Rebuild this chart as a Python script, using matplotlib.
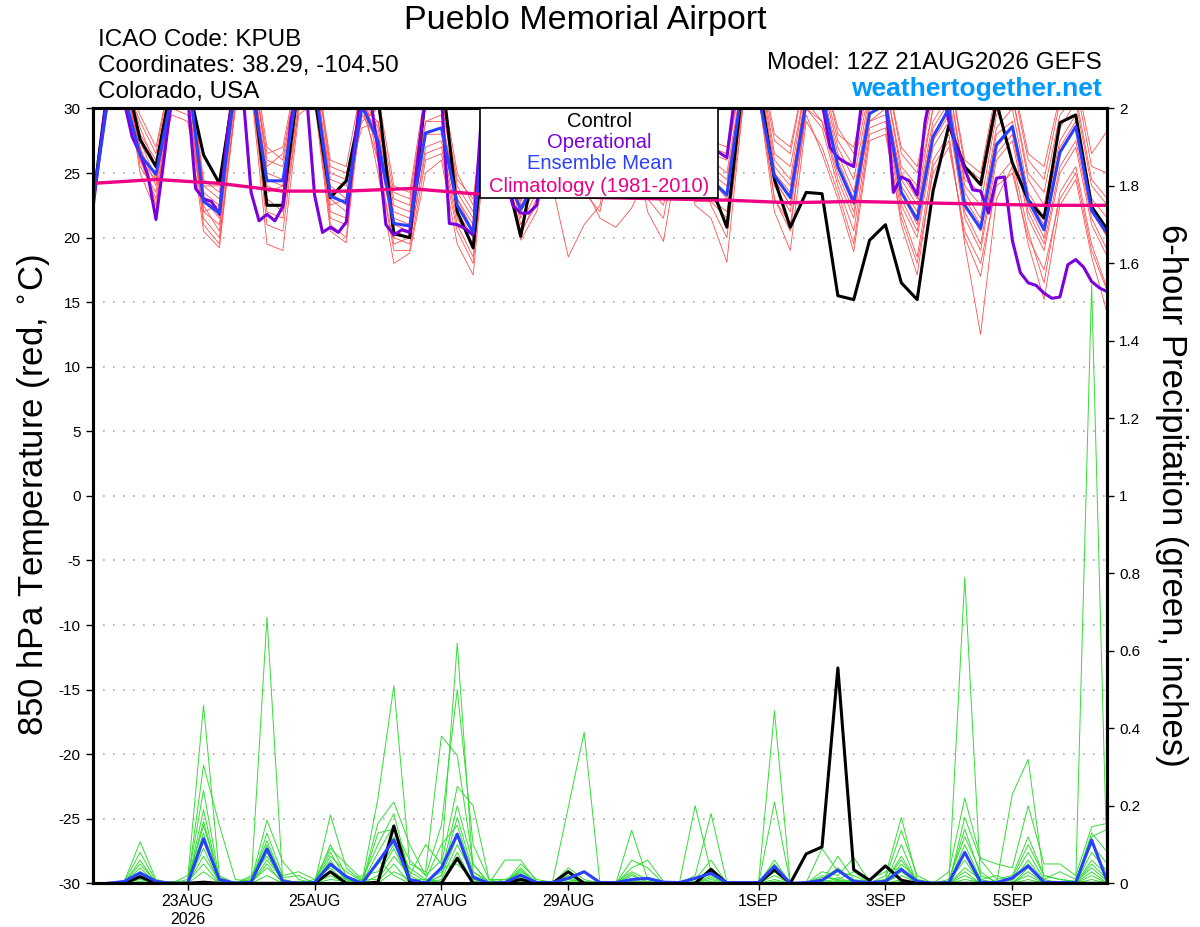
import numpy as np
import pandas as pd
import matplotlib
matplotlib.use("Agg")
import matplotlib.pyplot as plt
from matplotlib.patches import Rectangle

plt.rcParams['font.family'] = ['Liberation Sans', 'DejaVu Sans']
plt.rcParams['axes.unicode_minus'] = False

# 6-hourly GEFS steps, 3-hourly operational run
times = pd.date_range('2026-08-21 12:00', periods=65, freq='6h')
times_op = pd.date_range('2026-08-21 12:00', periods=129, freq='3h')
clim_times = pd.date_range('2026-08-21 12:00', periods=17, freq='24h')

tick_times = pd.to_datetime(['2026-08-23', '2026-08-25', '2026-08-27', '2026-08-29',
                             '2026-09-01', '2026-09-03', '2026-09-05'])
tick_labels = ['23AUG\n2026', '25AUG', '27AUG', '29AUG', '1SEP', '3SEP', '5SEP']

# 850 hPa temperature (C)
control_t = [22.5, 32, 33, 27.6, 25.5, 32, 32, 26.4, 24.2, 32, 33, 22.5, 22.5, 32, 31, 23.1,
             24.4, 30.5, 31, 20.3, 20.0, 31, 33, 22.0, 19.2, 32, 25.2, 20.1, 26.5, 30, 31, 26,
             25, 29, 31, 26, 25, 29, 27, 24, 20.8, 32, 32, 24.5, 20.8, 23.5, 23.4, 15.5,
             15.2, 19.8, 21.0, 16.5, 15.2, 23.6, 28.7, 25.5, 24.1, 30.5, 25.8, 22.9, 21.5, 28.9,
             29.5, 22.4, 20.6]

mean_t = [22.5, 31, 31, 26.4, 24.9, 31, 33, 22.8, 21.9, 32, 32, 24.4, 24.4, 32, 32, 23.2,
          22.7, 30.2, 27.5, 21.1, 20.9, 28.1, 28.5, 22.5, 20.4, 32, 25, 22.2, 24.5, 30, 31, 25.5,
          24.5, 29, 30.5, 25.5, 24.5, 29, 28, 24.5, 23.3, 32, 31, 24.8, 23.1, 30.5, 31, 25.5,
          22.7, 29.6, 30.3, 23.5, 21.4, 27.8, 30, 22.5, 20.7, 27.2, 28.6, 22.9, 20.6, 26.6,
          28.6, 22.1, 20.3]

oper_t = [22.0, 27, 32, 33, 30.5, 27.8, 26.5, 24.8, 21.4, 26, 31, 33, 31, 23.8, 23.0, 22.8,
          21.8, 28, 32, 31, 23.5, 21.3, 21.8, 21.3, 22.4, 29, 32, 31, 23.3, 20.4, 20.8, 20.4,
          21.2, 27, 32, 31, 26.8, 21, 20.2, 20.6, 20.4, 26, 31, 33, 31, 21.1, 21.0, 20.7,
          20.2, 29, 32, 32, 25, 22.5, 21.9, 21.9, 22.5, 26, 31, 33, 33, 32, 29, 27,
          25, 24.5, 24.3, 25, 28, 31, 33, 33, 32, 30, 28, 26.5, 25.5, 26, 26.5, 26.6,
          26.2, 31, 33, 34, 33, 32, 32, 33, 34, 33, 32, 31, 30.5, 27, 26.2, 25.8,
          25.5, 30.5, 33, 32, 31, 23.5, 24.7, 24.4, 23.3, 29, 32, 32, 29, 27, 25.3, 23.7,
          23.6, 21.9, 24.6, 24.7, 19.8, 17.3, 16.5, 16.3, 15.7, 15.3, 15.4, 17.9, 18.3, 17.7, 16.6, 16.1,
          15.8]

clim_t = [24.2, 24.5, 24.2, 23.6, 23.6, 23.8, 23.4, 23.3, 23.1, 23.0, 22.9, 22.7, 22.8,
          22.7, 22.6, 22.5, 22.5]

member_t = [
    [22.0, 31, 33, 27.0, 24.0, 31, 32, 22.0, 21.0, 31.5, 33, 24.0, 23.5, 31, 32, 23.0, 22.0, 31, 27, 21.0,
     20.5, 28, 28.5, 22.0, 20.0, 31, 28, 22.0, 24.0, 30, 31, 25, 24, 30, 31, 25.5, 24.5, 30, 28, 24.5,
     23.0, 31, 32, 24.5, 22.5, 31, 30, 25.5, 22.5, 30, 30.5, 23.5, 21.0, 28, 30, 22.5, 20.5, 27, 28.5, 22.5,
     20.0, 26.5, 28.5, 22.0, 20.0],
    [22.3, 30.5, 32.5, 28.5, 25.5, 32, 33, 23.5, 22.5, 32.5, 34, 26.0, 25.5, 32.5, 33, 24.5, 24.0, 30, 29, 22.5,
     22.0, 30, 30.5, 23.5, 21.5, 32.5, 30, 23.5, 25.5, 32, 33, 27, 26, 32, 33, 27, 26, 32, 31, 26.0,
     25.0, 32.5, 33.5, 26.0, 24.5, 32, 32, 27.0, 24.5, 31, 32, 25.0, 23.0, 30, 32, 24.0, 22.5, 29.5, 31, 24.5,
     22.5, 28.5, 30.5, 24.0, 22.5],
    [22.6, 32, 33.5, 26.0, 23.0, 30.5, 31, 21.0, 19.5, 30.5, 32, 21.0, 20.5, 30, 31, 21.0, 20.0, 32, 26, 19.0,
     19.0, 26, 26.5, 20.5, 18.0, 30, 26, 20.5, 22.5, 28, 29, 23.5, 22.0, 28, 29, 22.0, 19.7, 27, 22.5, 21.5,
     18.1, 30, 31, 22.0, 19.0, 29, 27, 23.5, 19.5, 28, 28.5, 21.0, 17.1, 25.5, 27.5, 20.0, 17.0, 24.5, 26, 20.5,
     16.5, 23.5, 25.5, 19.5, 16.0],
    [22.8, 31.5, 32, 29.0, 26.5, 33, 34, 24.5, 23.5, 33, 34.5, 25.5, 26.5, 33, 34, 25.5, 25.0, 29, 30, 23.5,
     23.0, 31, 31, 24.5, 23.0, 33, 31, 24.0, 26.0, 33, 34, 28, 27, 33, 34, 28, 27.5, 33, 32, 27.0,
     26.5, 33, 34, 27.5, 26.5, 33, 33, 28.5, 26.5, 32, 33, 26.5, 25.0, 31, 33, 25.5, 24.5, 31, 32, 26.0,
     24.5, 30.5, 32, 25.5, 25.0],
    [22.1, 30.8, 33, 25.0, 22.0, 30, 29.5, 20.5, 19.2, 30, 31.5, 19.5, 19.0, 29.5, 30.5, 20.5, 19.6, 31, 25, 18.0,
     18.8, 25, 26, 19.5, 17.1, 30, 25, 19.8, 22.0, 27, 28, 24, 21.5, 20.8, 22.3, 25, 24, 29, 27, 23.5,
     21.0, 30.5, 31.5, 23.0, 20.5, 30, 28.5, 24.0, 20.5, 28.5, 29, 22.0, 18.5, 26, 28, 19.5, 12.5, 23, 25.5, 19.5,
     15.2, 22.5, 24.5, 18.5, 14.1],
    [22.5, 31.2, 32.8, 27.5, 24.5, 31.5, 32.5, 23.0, 22.0, 31, 33, 24.5, 24.0, 31.5, 32.5, 23.5, 22.5, 30.5, 28, 21.5,
     21.0, 29, 29, 23.0, 20.5, 31.5, 28.5, 22.5, 24.5, 30.5, 31.5, 26, 25, 30.5, 31.5, 26, 25, 30.5, 29, 25.0,
     24.0, 31.5, 32.5, 25.0, 23.5, 31.5, 31, 26.0, 23.0, 30, 31, 24.0, 22.0, 28.5, 30.5, 23.0, 21.0, 28, 29, 23.0,
     21.0, 27, 29, 22.5, 20.5],
    [22.9, 32, 33.2, 26.5, 25.0, 29.5, 29, 22.5, 20.5, 31, 32.5, 23.0, 22.0, 30.5, 31.5, 22.0, 21.5, 29.5, 27.5, 20.0,
     19.5, 27, 27.5, 21.5, 19.5, 30.5, 27, 21.0, 23.5, 24, 18.5, 21.0, 22.5, 29, 30, 24, 23.5, 29, 28, 23.0,
     22.0, 30.5, 31.5, 24.0, 22.0, 30, 29, 24.5, 21.5, 29, 29.5, 22.5, 20.0, 27, 29, 21.5, 19.0, 26, 27.5, 21.5,
     19.0, 25, 27, 21.0, 18.5],
    [22.4, 31, 32.4, 28.0, 26.0, 32.5, 33.5, 24.0, 23.0, 33, 34, 26.5, 27.0, 33.5, 34, 26.0, 25.5, 32, 31, 24.0,
     23.5, 31.5, 32, 25.0, 22.5, 33.5, 31, 23.0, 26.5, 33, 34, 28.5, 27.5, 33, 34, 28.5, 28, 33, 32, 27.5,
     27.0, 33.5, 34.5, 28.0, 27.0, 33, 33.5, 28.0, 27.0, 32.5, 33, 27.0, 25.5, 31.5, 33, 26.0, 25.0, 31.5, 32.5, 26.5,
     25.5, 31, 32.5, 26.5, 28.3],
    [22.2, 30.6, 33.1, 25.5, 23.5, 30.5, 31, 21.5, 20.0, 30, 31.5, 22.0, 21.5, 30, 31, 21.5, 21.0, 30, 26, 19.5,
     20.0, 26.5, 27, 21.0, 18.5, 30, 26, 20.2, 23.0, 28, 29, 24.5, 23.0, 28, 29, 23.0, 21.5, 28, 26, 22.5,
     20.0, 30, 31, 23.0, 21.0, 29.5, 26.5, 23.0, 18.9, 27.5, 28, 21.5, 18.0, 25, 27, 20.5, 18.0, 24, 25, 20.0,
     17.5, 23, 25, 19.0, 15.8],
    [22.7, 31.4, 32.6, 27.0, 22.5, 31, 32, 23.0, 21.5, 32, 33.5, 25.0, 24.5, 32, 33, 24.0, 23.0, 31, 28.5, 22.0,
     21.5, 29, 29.5, 23.0, 21.0, 32, 29, 22.8, 25.0, 31, 32, 26.5, 25.5, 31, 32, 26.5, 25.5, 31, 30, 25.5,
     24.5, 32, 33, 25.5, 24.0, 31, 31.5, 26.5, 23.5, 30.5, 31, 24.5, 22.5, 29, 31, 23.5, 21.5, 28.5, 30, 23.5,
     21.5, 27.5, 29.5, 23.0, 21.5],
    [22.6, 31.8, 32.9, 29.5, 27.0, 33, 34, 24.0, 24.0, 33.5, 35, 27.0, 26.0, 33, 34, 25.0, 24.5, 28.5, 29, 23.0,
     22.5, 30.5, 31, 24.0, 22.0, 33, 30.5, 23.8, 25.5, 32, 33, 27.5, 26.5, 32, 33, 27.5, 27, 32, 31, 26.5,
     26.0, 33, 34, 26.5, 25.5, 32, 32.5, 27.5, 25.5, 31.5, 32, 25.5, 24.0, 30, 32, 24.5, 23.5, 30, 31, 25.0,
     23.5, 29.5, 31, 24.5, 23.0],
    [22.3, 30.9, 33.4, 26.0, 24.5, 30, 31, 22.0, 22.5, 31, 32.5, 23.5, 24.0, 31, 32, 22.5, 23.0, 31, 27, 20.5,
     20.0, 28, 28, 22.5, 20.5, 31, 27.5, 21.5, 24.0, 29, 30, 25.5, 24.5, 29.5, 30.5, 24.0, 22.5, 28.5, 22.8, 22.8,
     21.5, 31, 32, 24.5, 22.5, 30.5, 29, 25.0, 22.0, 29, 30, 23.0, 20.5, 27.5, 29.5, 22.0, 19.5, 26.5, 28, 22.0,
     19.5, 25.5, 27.5, 21.5, 19.0],
]

# 6-hour precipitation (inches), from the first 6-h step on
control_p = [0, 0, 0.017, 0, 0, 0, 0.003, 0, 0, 0, 0, 0, 0, 0, 0.03, 0,
             0, 0.003, 0.148, 0.005, 0, 0, 0.065, 0, 0, 0, 0.01, 0, 0, 0.03, 0, 0,
             0, 0, 0, 0, 0, 0, 0.036, 0, 0, 0, 0.035, 0, 0.076, 0.094, 0.556, 0.035,
             0.008, 0.045, 0.008, 0, 0, 0, 0, 0, 0, 0, 0, 0, 0, 0, 0, 0]

mean_p = [0, 0.005, 0.027, 0.005, 0, 0, 0.115, 0.01, 0, 0.003, 0.089, 0.005, 0, 0.002, 0.05, 0.017,
          0, 0.055, 0.112, 0.01, 0, 0.04, 0.127, 0.016, 0, 0.002, 0.021, 0.002, 0.002, 0.013, 0.03, 0.002,
          0.002, 0.01, 0.013, 0.003, 0.002, 0.013, 0.026, 0.002, 0.002, 0.002, 0.044, 0, 0.002, 0.008, 0.034, 0.005,
          0.002, 0.005, 0.036, 0.005, 0, 0.002, 0.08, 0.003, 0.002, 0.014, 0.045, 0.003, 0.002, 0.002, 0.112, 0.003]

# one row per 6-h step, one column per member
member_p = [
    [0, 0, 0, 0, 0, 0, 0, 0, 0, 0, 0, 0],
    [0.005, 0.003, 0, 0.002, 0, 0, 0.004, 0, 0, 0, 0.002, 0],
    [0.107, 0.08, 0.06, 0.05, 0.04, 0.03, 0.02, 0.015, 0.01, 0.005, 0, 0.025],
    [0.01, 0.005, 0, 0.003, 0, 0, 0.008, 0, 0, 0, 0.002, 0.004],
    [0, 0.003, 0, 0, 0, 0.005, 0, 0, 0.004, 0, 0, 0],
    [0.01, 0, 0.005, 0, 0.003, 0, 0.02, 0, 0, 0.004, 0, 0.002],
    [0.46, 0.305, 0.24, 0.19, 0.16, 0.13, 0.11, 0.09, 0.07, 0.05, 0.03, 0.15],
    [0.02, 0.15, 0.01, 0.005, 0.01, 0, 0.015, 0, 0.005, 0, 0, 0.01],
    [0, 0.01, 0, 0, 0, 0, 0, 0, 0.005, 0, 0, 0],
    [0, 0.005, 0, 0.01, 0, 0.02, 0, 0, 0, 0.003, 0, 0.015],
    [0.687, 0.163, 0.13, 0.11, 0.1, 0.09, 0.08, 0.06, 0.05, 0.04, 0.02, 0.07],
    [0, 0.055, 0.02, 0.01, 0.005, 0.015, 0, 0.01, 0, 0.005, 0, 0.01],
    [0.005, 0.01, 0.03, 0, 0, 0.02, 0, 0, 0.005, 0, 0, 0],
    [0, 0, 0.01, 0.005, 0, 0, 0, 0.01, 0, 0, 0, 0.005],
    [0.176, 0.1, 0.09, 0.08, 0.07, 0.06, 0.05, 0.04, 0.03, 0.02, 0.01, 0.045],
    [0.04, 0.02, 0.05, 0.01, 0.03, 0.005, 0.02, 0, 0.01, 0, 0.005, 0.015],
    [0.005, 0, 0.01, 0, 0.005, 0.02, 0, 0.01, 0, 0, 0, 0],
    [0.22, 0.155, 0.1, 0.08, 0.05, 0.03, 0.02, 0.01, 0.005, 0, 0.06, 0.13],
    [0.51, 0.21, 0.18, 0.15, 0.12, 0.1, 0.09, 0.07, 0.05, 0.03, 0.02, 0.14],
    [0.05, 0.1, 0.02, 0.03, 0.01, 0.04, 0.005, 0.02, 0, 0.01, 0, 0.06],
    [0.03, 0.02, 0.1, 0.005, 0, 0.01, 0, 0, 0.005, 0.01, 0, 0.02],
    [0.38, 0.06, 0.05, 0.03, 0.02, 0.1, 0.02, 0.01, 0, 0.005, 0.04, 0.15],
    [0.33, 0.62, 0.25, 0.2, 0.17, 0.15, 0.12, 0.1, 0.08, 0.06, 0.05, 0.5],
    [0.05, 0.03, 0.2, 0.05, 0.03, 0.02, 0.01, 0.02, 0, 0.005, 0.01, 0.1],
    [0, 0.005, 0.01, 0, 0, 0, 0.005, 0, 0, 0, 0, 0.01],
    [0.06, 0, 0, 0, 0.005, 0, 0, 0, 0.01, 0, 0, 0.01],
    [0.06, 0.05, 0.04, 0.035, 0.03, 0.02, 0.015, 0.01, 0.005, 0, 0.002, 0.025],
    [0.005, 0.01, 0, 0, 0.005, 0, 0, 0.002, 0, 0, 0, 0],
    [0, 0.003, 0, 0.005, 0, 0, 0, 0, 0.003, 0, 0, 0],
    [0.04, 0.196, 0.03, 0.02, 0.015, 0.01, 0.005, 0.01, 0, 0, 0.003, 0.02],
    [0.01, 0.39, 0, 0.005, 0, 0.003, 0, 0, 0, 0, 0, 0],
    [0, 0, 0.005, 0, 0, 0, 0.003, 0, 0, 0, 0, 0],
    [0, 0, 0, 0.003, 0, 0, 0, 0, 0, 0.004, 0, 0],
    [0.137, 0.06, 0.04, 0.03, 0.02, 0.01, 0.005, 0, 0, 0, 0, 0.025],
    [0.01, 0.04, 0.06, 0.01, 0.005, 0, 0, 0, 0.003, 0, 0, 0],
    [0, 0, 0.005, 0, 0, 0, 0, 0.002, 0, 0, 0, 0],
    [0, 0, 0, 0, 0.003, 0, 0, 0, 0, 0, 0, 0],
    [0.2, 0.02, 0.01, 0.005, 0, 0, 0, 0, 0, 0, 0.003, 0],
    [0.03, 0.18, 0.06, 0.04, 0.03, 0.02, 0.01, 0.005, 0, 0, 0, 0.015],
    [0, 0.003, 0, 0, 0, 0, 0, 0, 0, 0, 0, 0],
    [0, 0, 0, 0, 0.002, 0, 0, 0, 0, 0, 0, 0],
    [0.004, 0, 0, 0.003, 0, 0, 0, 0, 0, 0, 0, 0],
    [0.445, 0.21, 0.06, 0.05, 0.04, 0.03, 0.02, 0.01, 0.005, 0, 0, 0.03],
    [0, 0, 0, 0, 0, 0, 0, 0, 0, 0, 0, 0],
    [0.002, 0, 0, 0.003, 0, 0, 0, 0, 0, 0, 0, 0],
    [0.09, 0.005, 0.03, 0.01, 0.02, 0, 0.005, 0, 0, 0.01, 0, 0.015],
    [0.03, 0.07, 0.02, 0.04, 0.01, 0.015, 0, 0.005, 0, 0, 0.008, 0.01],
    [0.02, 0.01, 0.066, 0.005, 0.03, 0, 0.01, 0, 0.005, 0, 0, 0],
    [0, 0.003, 0.005, 0, 0, 0.01, 0, 0, 0, 0.003, 0, 0],
    [0.02, 0.01, 0, 0.005, 0, 0.03, 0, 0.005, 0, 0, 0, 0.01],
    [0.17, 0.137, 0.1, 0.07, 0.05, 0.04, 0.03, 0.02, 0.01, 0.005, 0, 0.06],
    [0.01, 0.02, 0, 0.005, 0.01, 0, 0, 0.003, 0, 0, 0, 0.005],
    [0, 0, 0, 0, 0, 0.003, 0, 0, 0, 0, 0, 0],
    [0.003, 0.03, 0, 0.005, 0, 0, 0.004, 0, 0, 0, 0, 0.01],
    [0.79, 0.22, 0.17, 0.14, 0.1, 0.08, 0.06, 0.04, 0.03, 0.02, 0.01, 0.12],
    [0.005, 0.065, 0.06, 0.02, 0.01, 0.005, 0, 0.01, 0, 0, 0.003, 0.03],
    [0, 0.05, 0.01, 0.005, 0.02, 0, 0, 0, 0.003, 0, 0, 0],
    [0.23, 0.04, 0.02, 0.01, 0.005, 0.01, 0, 0, 0.002, 0, 0, 0.015],
    [0.32, 0.2, 0.12, 0.08, 0.06, 0.05, 0.04, 0.03, 0.02, 0.01, 0, 0.1],
    [0.01, 0.05, 0.02, 0.01, 0.005, 0, 0.003, 0, 0, 0, 0, 0.02],
    [0, 0.05, 0.01, 0.03, 0, 0.005, 0, 0, 0.002, 0, 0, 0.01],
    [0.005, 0.02, 0.005, 0.01, 0, 0, 0, 0.003, 0, 0, 0, 0.005],
    [1.545, 0.146, 0.12, 0.1, 0.08, 0.06, 0.05, 0.04, 0.03, 0.02, 0.01, 0.13],
    [0, 0.155, 0.14, 0.05, 0.03, 0.02, 0.01, 0.005, 0, 0, 0, 0.08],
]

RED = '#ff5050'
GREEN = '#33dd33'
PURPLE = '#7b00dc'
BLUE = '#2a40ff'
PINK = '#ec0085'

fig = plt.figure(figsize=(12, 9.27), dpi=100)
ax = fig.add_axes([0.0771, 0.0471, 0.8458, 0.8359])
ax2 = ax.twinx()

for m in member_t:
    ax.plot(times, m, color=RED, lw=0.6)
ax.plot(times, control_t, color='black', lw=2.2)
ax.plot(times_op, oper_t, color=PURPLE, lw=2.2)
ax.plot(times, mean_t, color=BLUE, lw=2.2)
ax.plot(clim_times, clim_t, color=PINK, lw=2.4)

pm = np.array(member_p)
for k in range(pm.shape[1]):
    ax2.plot(times[1:], pm[:, k], color=GREEN, lw=0.7)
ax2.plot(times[1:], control_p, color='black', lw=2.2)
ax2.plot(times[1:], mean_p, color=BLUE, lw=2.2)

ax.set_xlim(times[0], times[-1])
ax.set_ylim(-30, 30)
ax2.set_ylim(0, 2)

ax.set_yticks(np.arange(-30, 31, 5))
ax.yaxis.grid(True, linestyle=(0, (1, 5)), color='#aaaaaa', lw=1.2)
ax2.set_yticks(np.arange(0, 2.01, 0.2))
ax2.set_yticklabels(['0', '0.2', '0.4', '0.6', '0.8', '1', '1.2', '1.4', '1.6', '1.8', '2'])
ax.set_xticks(tick_times)
ax.set_xticklabels(tick_labels)

for a in (ax, ax2):
    a.tick_params(direction='out', length=5, width=1, labelsize=11)
    for s in a.spines.values():
        s.set_linewidth(2.2)
ax.tick_params(axis='x', labelsize=11.5, pad=3)

# legend box
ax2.add_patch(Rectangle((0.3818, 0.8845), 0.2345, 0.1155, transform=ax2.transAxes,
                        facecolor='white', edgecolor='black', lw=1.2, zorder=10))
leg = [('Control', 'black', 0.9838), ('Operational', PURPLE, 0.9567),
       ('Ensemble Mean', BLUE, 0.9296), ('Climatology (1981-2010)', PINK, 0.8999)]
for txt, col, yy in leg:
    ax2.text(0.4995, yy, txt, color=col, fontsize=14.5, ha='center', va='center',
             transform=ax2.transAxes, zorder=11)

fig.text(0.4875, 0.978, 'Pueblo Memorial Airport', fontsize=24.5, ha='center', va='center')
fig.text(0.0817, 0.9565, 'ICAO Code: KPUB', fontsize=17.5, ha='left', va='center')
fig.text(0.0817, 0.9285, 'Coordinates: 38.29, -104.50', fontsize=17.5, ha='left', va='center')
fig.text(0.0817, 0.9005, 'Colorado, USA', fontsize=17.5, ha='left', va='center')
fig.text(0.918, 0.932, 'Model: 12Z 21AUG2026 GEFS', fontsize=17.5, ha='right', va='center')
fig.text(0.918, 0.904, 'weathertogether.net', fontsize=19, fontweight='bold',
         color='#0099ff', ha='right', va='center')

fig.text(0.028, 0.466, '850 hPa Temperature (red, $^{\\circ}$C)', fontsize=25,
         rotation=90, ha='center', va='center')
fig.text(0.976, 0.466, '6-hour Precipitation (green, inches)', fontsize=25,
         rotation=270, ha='center', va='center')

fig.savefig('out.png', dpi=100)
